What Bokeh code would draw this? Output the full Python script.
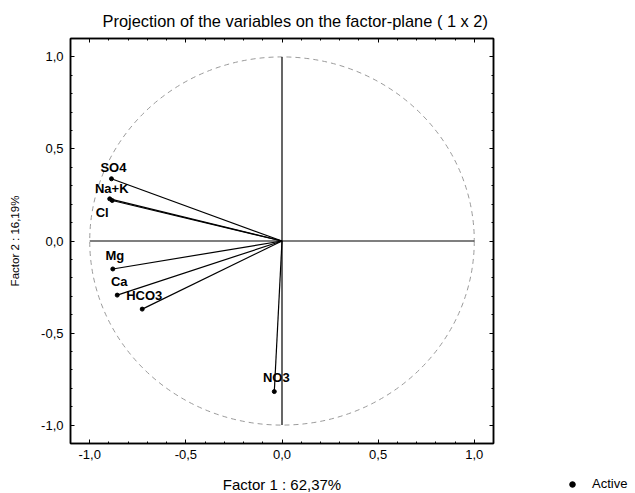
import numpy as np
from bokeh.plotting import figure
from bokeh.layouts import row, column
from bokeh.models import (ColumnDataSource, FixedTicker, LinearAxis, Range1d,
                          Legend, LegendItem, Spacer)
from bokeh.core.properties import value
from bokeh.embed import file_html
from bokeh.resources import INLINE

# ---- data ----
variables = ["SO4", "Na+K", "Cl", "Mg", "Ca", "HCO3", "NO3"]
factor1 = [-0.887, -0.896, -0.883, -0.880, -0.857, -0.727, -0.040]
factor2 = [0.338, 0.229, 0.220, -0.152, -0.294, -0.370, -0.818]
tick_values = [-1.0, -0.5, 0.0, 0.5, 1.0]
tick_labels = ["-1,0", "-0,5", "0,0", "0,5", "1,0"]
legend_label = "Active"

# label placement (screen pixels, +y is downward) relative to each point
label_dx = [2, 2, -10, 2, 2, 2, 2]
label_dy = [-11, -10, 12, -13, -14, -14, -14]

FONT = "Liberation Sans"

src = ColumnDataSource(dict(x=factor1, y=factor2, name=variables,
                            x0=[0.0] * len(variables), y0=[0.0] * len(variables),
                            dx=label_dx, dy=label_dy))

p = figure(frame_width=423, frame_height=405, width=503, height=492,
           x_range=Range1d(-1.1, 1.1), y_range=Range1d(-1.1, 1.1),
           output_backend="svg", toolbar_location=None,
           min_border_left=70, min_border_right=10, min_border_top=37,
           min_border_bottom=50,
           title="Projection of the variables on the factor-plane ( 1 x  2)")
p.background_fill_color = "white"
p.border_fill_color = "white"
p.grid.visible = False
p.outline_line_color = "black"
p.outline_line_width = 1.5

p.title.align = "left"
p.title.offset = 32
p.title.text_font = FONT
p.title.text_font_size = "16.4px"
p.title.text_font_style = "normal"
p.title.text_color = "black"
p.title.standoff = 18

bottom_axis = p.below[0]
left_axis = p.left[0]

minor = [round(v, 1) for v in np.arange(-1.1, 1.11, 0.1)]
ticker = FixedTicker(ticks=tick_values, minor_ticks=minor)
overrides = {v: l for v, l in zip(tick_values, tick_labels)}
blank = {v: "" for v in tick_values}

bottom_axis.axis_label = "Factor 1 : 62,37%"
left_axis.axis_label = "Factor 2 : 16,19%"

extra_top = LinearAxis()
extra_right = LinearAxis()
p.add_layout(extra_top, "above")
p.add_layout(extra_right, "right")

for ax in [bottom_axis, left_axis, extra_top, extra_right]:
    ax.ticker = ticker
    ax.major_label_overrides = overrides
    ax.major_tick_in = 4
    ax.major_tick_out = 0
    ax.minor_tick_in = 2
    ax.minor_tick_out = 0
    ax.major_tick_line_color = "black"
    ax.minor_tick_line_color = "black"
    ax.axis_line_color = "black"
    ax.axis_line_width = 1.5
    ax.major_label_text_font = FONT
    ax.major_label_text_font_size = "13px"
    ax.major_label_text_color = "black"
    ax.axis_label_text_font = FONT
    ax.axis_label_text_font_style = "normal"
    ax.axis_label_text_color = "black"

extra_top.major_label_overrides = blank
extra_right.major_label_overrides = blank
extra_right.major_label_standoff = 0
bottom_axis.axis_label_text_font_size = "15px"
left_axis.axis_label_text_font_size = "11.5px"
bottom_axis.major_label_standoff = 6
bottom_axis.axis_label_standoff = 14
left_axis.major_label_standoff = 7
left_axis.axis_label_standoff = 17

# unit circle (radius 1)
p.ellipse(x=0, y=0, width=2, height=2, fill_color=None, line_color="#9a9a9a",
          line_dash="5 4", line_width=1)

# zero axes
p.segment(x0=[-1.0, 0.0], y0=[0.0, -1.0], x1=[1.0, 0.0], y1=[0.0, 1.0],
          line_color="black", line_width=1.2)

# vectors
p.segment(x0="x0", y0="y0", x1="x", y1="y", source=src, line_color="black",
          line_width=1.2)
p.scatter(x="x", y="y", source=src, size=4, color="black")

p.text(x="x", y="y", text="name", source=src, x_offset="dx", y_offset="dy",
       text_align="center", text_baseline="alphabetic",
       text_font=value(FONT), text_font_size="13px", text_font_style="bold",
       text_color="black")

# small legend panel at the bottom right of the chart
q = figure(width=131, height=30, x_range=Range1d(10, 11), y_range=Range1d(10, 11),
           output_backend="svg", toolbar_location=None,
           x_axis_location=None, y_axis_location=None,
           min_border=0, min_border_left=0, min_border_right=0,
           min_border_top=0, min_border_bottom=0)
q.grid.visible = False
q.outline_line_color = None
q.background_fill_color = "white"
q.border_fill_color = "white"
# same points, out of this panel's view; only used for the legend glyph
legend_pts = q.scatter(x="x", y="y", source=src, size=4, color="black")

legend = Legend(items=[LegendItem(label=legend_label, renderers=[legend_pts])],
                location=(59, 1), padding=0, margin=0, spacing=0,
                label_standoff=10, glyph_width=20, glyph_height=14,
                label_height=14,
                border_line_alpha=0, background_fill_alpha=0,
                label_text_font=FONT, label_text_font_size="13px",
                label_text_color="black")
q.add_layout(legend, "center")

right_col = column(Spacer(width=131, height=462), q, spacing=0)
layout = row(p, right_col, spacing=0)

open("out.html", "w").write(file_html(layout, INLINE))
